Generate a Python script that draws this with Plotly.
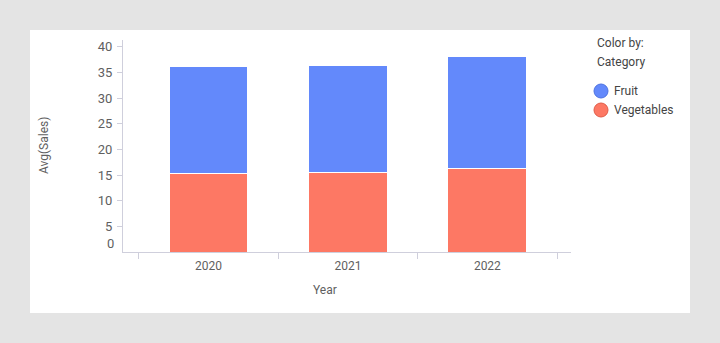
import plotly.graph_objects as go

years = ["2020", "2021", "2022"]
vegetables = [15.3, 15.5, 16.25]
fruit = [20.9, 20.9, 21.85]
y_ticks = [5, 10, 15, 20, 25, 30, 35, 40]
legend_names = ["Fruit", "Vegetables"]

BLUE = "#6389FB"
RED = "#FD7864"
AXIS = "#CFCFDC"
TXT = "#5f5f5f"
FONT = "Roboto"
colors = [BLUE, RED]
edges = ["#4d72e0", "#e05c48"]

W, H = 720, 343
L, R, T, B = 123, 720 - 571, 40, 343 - 252
pw, ph = W - L - R, H - T - B

def px(x):
    return (x - L) / pw

def py(y):
    return (H - B - y) / ph

fig = go.Figure()
fig.add_trace(go.Bar(x=years, y=vegetables, name="Vegetables", marker=dict(color=RED, line=dict(color="white", width=1))))
fig.add_trace(go.Bar(x=years, y=fruit, name="Fruit", marker=dict(color=BLUE, line=dict(color="white", width=1))))

shapes = [dict(type="rect", xref="paper", yref="paper", x0=px(30), x1=px(690), y0=py(313), y1=py(30),
               fillcolor="white", line=dict(width=0), layer="below")]
annotations = [
    dict(text="0", xref="paper", yref="y", x=px(116), y=0, yshift=9, xanchor="right", yanchor="middle",
         showarrow=False, font=dict(size=13, color=TXT)),
    dict(text="Year", xref="paper", yref="paper", x=px(325), y=py(290), xanchor="center", yanchor="middle",
         showarrow=False, font=dict(size=12, color=TXT)),
    dict(text="Avg(Sales)", xref="paper", yref="paper", x=px(44), y=py(146), textangle=-90,
         xanchor="center", yanchor="middle", showarrow=False, font=dict(size=12, color=TXT)),
    dict(text="Color by:", xref="paper", yref="paper", x=px(595), y=py(43), xanchor="left", yanchor="middle",
         showarrow=False, font=dict(size=12, color="#444")),
    dict(text="Category", xref="paper", yref="paper", x=px(595), y=py(62), xanchor="left", yanchor="middle",
         showarrow=False, font=dict(size=12, color="#444")),
]
for i, (nm, c, e) in enumerate(zip(legend_names, colors, edges)):
    cy = 91 + 19 * i
    shapes.append(dict(type="circle", xref="paper", yref="paper", x0=px(594), x1=px(608),
                       y0=py(cy + 7), y1=py(cy - 7), fillcolor=c, line=dict(color=e, width=1)))
    annotations.append(dict(text=nm, xref="paper", yref="paper", x=px(612), y=py(cy), xanchor="left",
                            yanchor="middle", showarrow=False, font=dict(size=12, color="#444")))

fig.update_layout(
    width=W, height=H,
    margin=dict(l=L, r=R, t=T, b=B, pad=0),
    paper_bgcolor="#E4E4E4",
    plot_bgcolor="white",
    barmode="stack",
    bargap=0.435,
    showlegend=False,
    font=dict(family=FONT, size=12, color=TXT),
    xaxis=dict(type="category", range=[-0.614, 2.6], showline=True, linecolor=AXIS, linewidth=1,
               ticks="outside", tickson="boundaries", ticklen=6, tickcolor=AXIS,
               showgrid=False, zeroline=False, tickfont=dict(size=12, color=TXT), ticklabelstandoff=3),
    yaxis=dict(range=[0, 41.3], tickvals=y_ticks, showline=True, linecolor=AXIS, linewidth=1,
               ticks="outside", ticklen=5, tickcolor=AXIS, showgrid=False, zeroline=False,
               tickfont=dict(size=13, color=TXT), ticklabelstandoff=2),
    shapes=shapes,
    annotations=annotations,
)

fig.write_html("out.html")
